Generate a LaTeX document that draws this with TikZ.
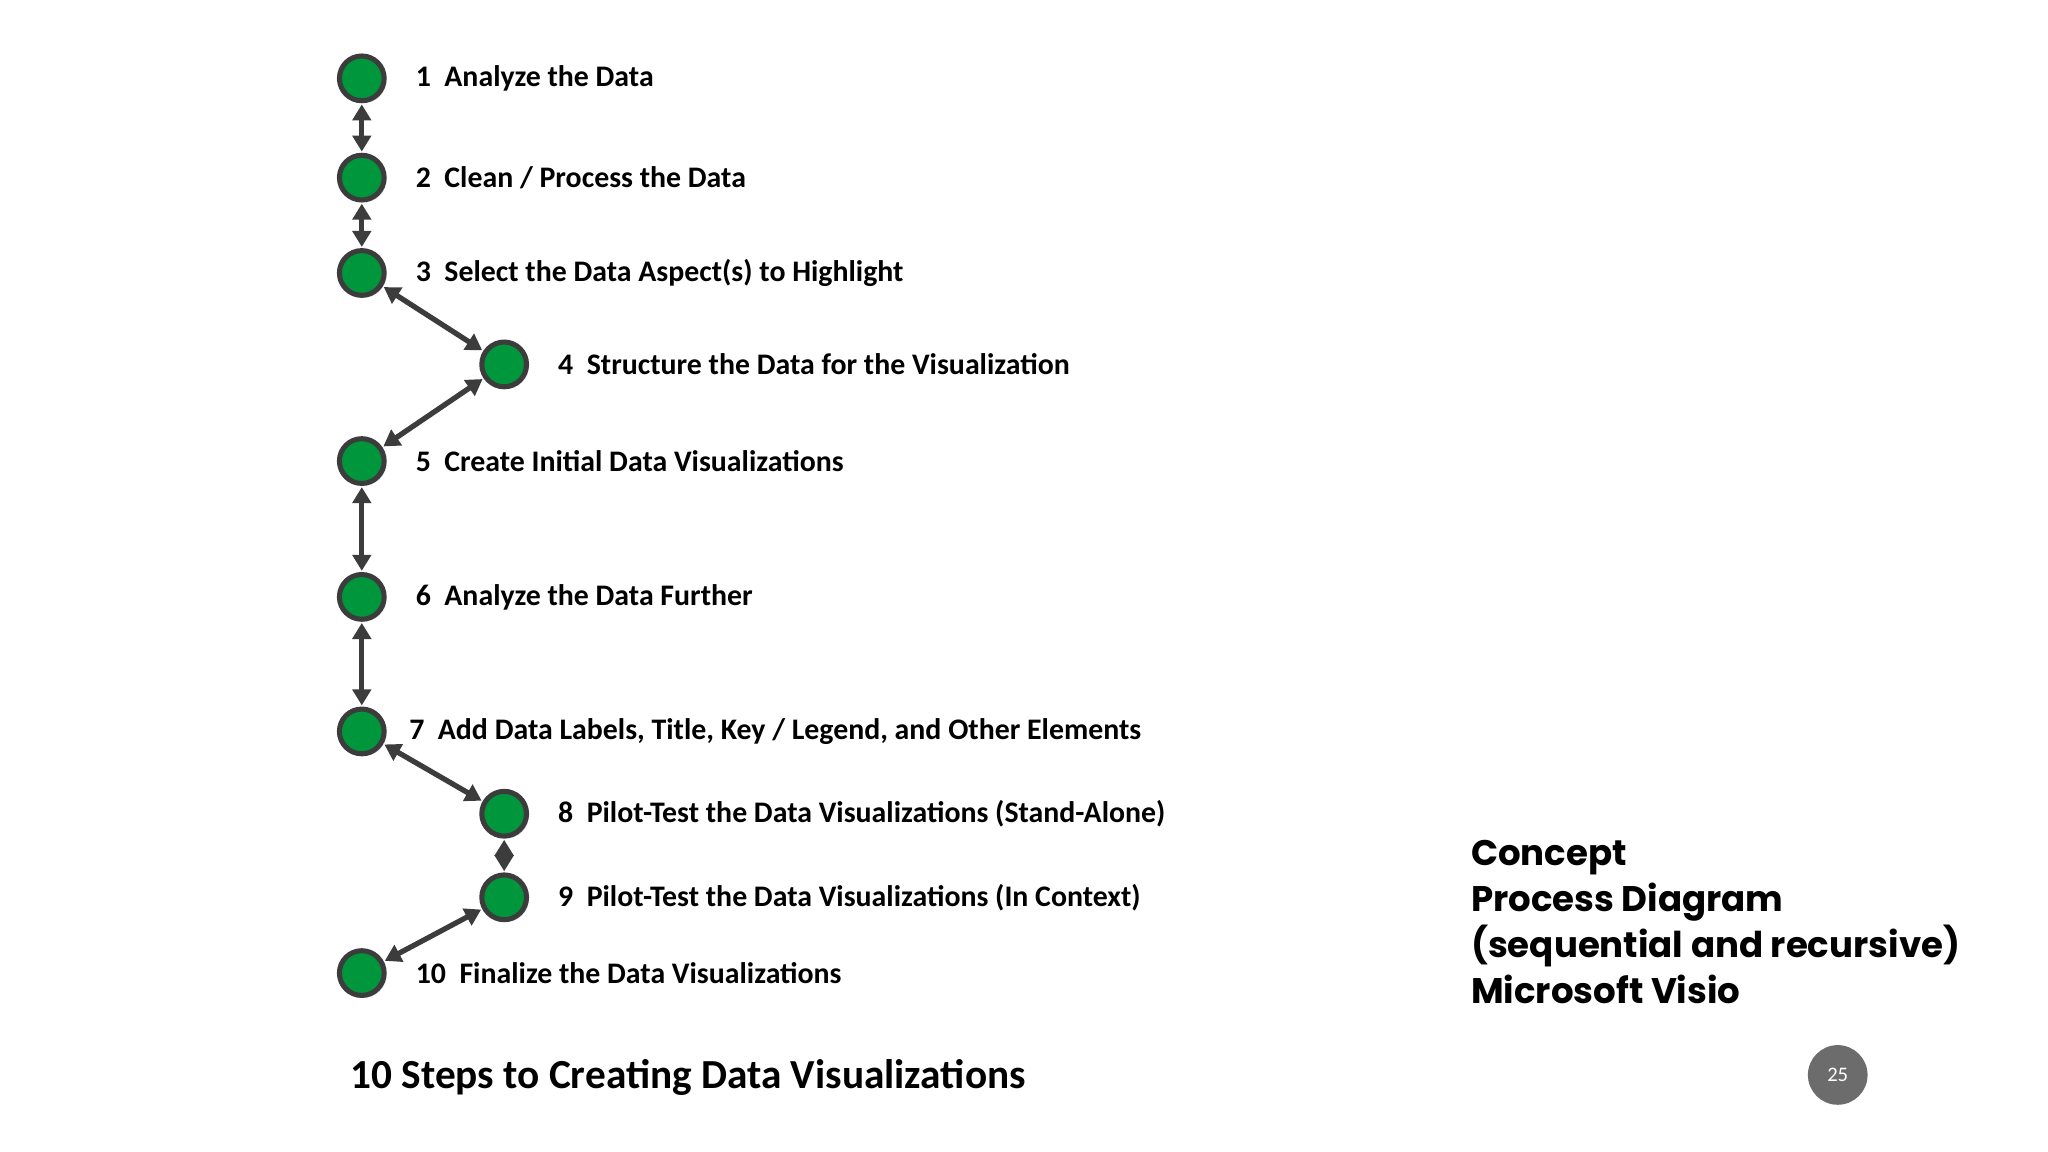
\documentclass[tikz,border=0pt]{standalone}
\usepackage{fontspec}
\setmainfont{Carlito}
\newfontfamily\geo{Poppins}
\usetikzlibrary{arrows.meta,shadows}
\definecolor{gr}{RGB}{0,150,60}
\definecolor{edge}{RGB}{60,60,60}
\tikzset{
 dot/.style={circle,minimum size=19.5pt,inner sep=0,fill=gr,draw=edge,line width=2.2pt,drop shadow={opacity=0.25,shadow xshift=1pt,shadow yshift=-1pt}},
 lbl/.style={anchor=west,font=\fontsize{13}{15}\selectfont\bfseries,inner sep=0},
 link/.style={edge,line width=2.3pt,{Triangle[length=7pt,width=8pt]}-{Triangle[length=7pt,width=8pt]},shorten <=0.5pt,shorten >=0.5pt}
}
\begin{document}
\begin{tikzpicture}[x=0.02cm,y=-0.02cm]
\useasboundingbox[fill=white] (0,0) rectangle (1568,882);
\node[dot] (n1) at (277,60) {};
\node[dot] (n2) at (277,136) {};
\node[dot] (n3) at (277,209) {};
\node[dot] (n4) at (386,279) {};
\node[dot] (n5) at (277,353) {};
\node[dot] (n6) at (277,457) {};
\node[dot] (n7) at (277,560) {};
\node[dot] (n8) at (386,623) {};
\node[dot] (n9) at (386,687) {};
\node[dot] (n10) at (277,745) {};
\foreach \a/\b in {n1/n2,n2/n3,n3/n4,n4/n5,n5/n6,n6/n7,n7/n8,n8/n9,n9/n10}
  \draw[link] (\a) -- (\b);
\node[lbl] (t1) at (318,60) {1\ \ Analyze the Data};
\node[lbl] (t2) at (318,136) {2\ \ Clean / Process the Data};
\node[lbl] (t3) at (318,209) {3\ \ Select the Data Aspect(s) to Highlight};
\node[lbl] (t4) at (427,279) {4\ \ Structure the Data for the Visualization};
\node[lbl] (t5) at (318,353) {5\ \ Create Initial Data Visualizations};
\node[lbl] (t6) at (318,457) {6\ \ Analyze the Data Further};
\node[lbl] (t7) at (313,560) {7\ \ Add Data Labels, Title, Key / Legend, and Other Elements};
\node[lbl] (t8) at (427,623) {8\ \ Pilot-Test the Data Visualizations (Stand-Alone)};
\node[lbl] (t9) at (427,687) {9\ \ Pilot-Test the Data Visualizations (In Context)};
\node[lbl] (t10) at (318,745) {10\ \ Finalize the Data Visualizations};
\node[anchor=west,inner sep=0,font=\fontsize{18}{21}\selectfont\bfseries] (title) at (268,825) {10 Steps to Creating Data Visualizations};
\node[anchor=north west,inner sep=0,align=left,font=\geo\fontsize{15.5}{20}\selectfont\bfseries] (side) at (1126,643) {Concept\\Process Diagram\\(sequential and recursive)\\Microsoft Visio};
\node[circle,fill=gray!85!black,minimum size=26pt,inner sep=0,text=white,font=\fontsize{9}{10}\selectfont] (pg) at (1407,823) {25};
\end{tikzpicture}
\end{document}
